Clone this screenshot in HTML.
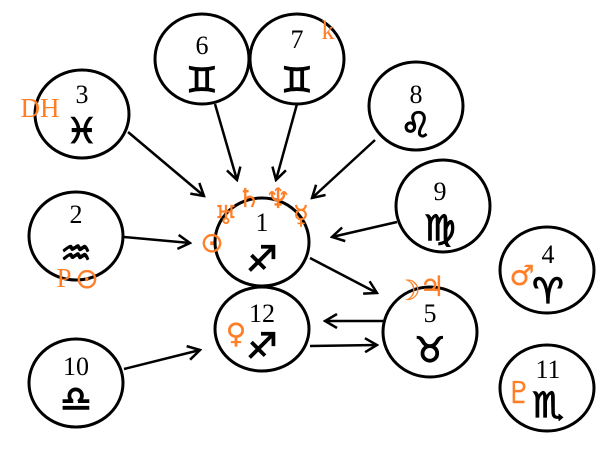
<!DOCTYPE html>
<html><head><meta charset="utf-8"><style>
html,body{margin:0;padding:0;background:#fff;}
svg{display:block}
.n{font-family:"Liberation Serif",serif;font-size:26px;fill:#000;text-anchor:middle}
.s{font-family:"DejaVu Sans",sans-serif;font-size:35px;font-weight:bold;fill:#000;stroke:#000;stroke-width:1.2;text-anchor:middle}
.o{font-family:"DejaVu Sans",sans-serif;fill:#ff7f27;stroke:#ff7f27;stroke-width:0.3;text-anchor:middle}
.or{font-family:"Liberation Serif",serif;fill:#ff7f27;text-anchor:middle}
</style></head><body>
<svg width="610" height="453" viewBox="0 0 610 453" xmlns="http://www.w3.org/2000/svg">
<defs><marker id="a" markerWidth="16" markerHeight="16" refX="14" refY="8" orient="auto" markerUnits="userSpaceOnUse"><path d="M2,1 L14,8 L2,15" fill="none" stroke="#000" stroke-width="2.5"/></marker></defs>
<g fill="none" stroke="#000" stroke-width="3">
<ellipse cx="202" cy="59" rx="47" ry="45"/>
<ellipse cx="297" cy="59" rx="47" ry="45"/>
<ellipse cx="82" cy="114" rx="47" ry="44"/>
<ellipse cx="416" cy="106" rx="47" ry="44"/>
<ellipse cx="443" cy="206" rx="47" ry="46"/>
<ellipse cx="76" cy="236" rx="47" ry="44"/>
<ellipse cx="262" cy="242" rx="47" ry="44"/>
<ellipse cx="262" cy="329" rx="47" ry="42"/>
<ellipse cx="430" cy="332" rx="47" ry="45"/>
<ellipse cx="76" cy="383" rx="47" ry="44"/>
<ellipse cx="547" cy="270" rx="47" ry="43"/>
<ellipse cx="547" cy="388" rx="47" ry="43"/>
</g>
<g stroke="#000" stroke-width="2.5" marker-end="url(#a)">
<line x1="128" y1="132" x2="204" y2="196"/>
<line x1="215" y1="104" x2="237" y2="180"/>
<line x1="297" y1="104" x2="276" y2="180"/>
<line x1="375" y1="140" x2="312" y2="198"/>
<line x1="397" y1="222" x2="332" y2="237"/>
<line x1="124" y1="237" x2="190" y2="243"/>
<line x1="310" y1="258" x2="377" y2="293"/>
<line x1="383" y1="321" x2="325" y2="321"/>
<line x1="310" y1="346" x2="377" y2="345"/>
<line x1="124" y1="369" x2="200" y2="350"/>
</g>
<text class="n" x="202" y="54">6</text><text class="s" x="202" y="92">♊</text>
<text class="n" x="297" y="48">7</text><text class="s" x="297" y="92">♊</text>
<text class="n" x="82" y="103">3</text><text class="s" x="82" y="143">♓</text>
<text class="n" x="416" y="103">8</text><text class="s" x="416" y="137">♌</text>
<text class="n" x="440" y="200">9</text><text class="s" x="440" y="240">♍</text>
<text class="n" x="76" y="223">2</text><text class="s" x="76" y="265">♒</text>
<text class="n" x="262" y="231">1</text><text class="s" x="262" y="271">♐</text>
<text class="n" x="262" y="322">12</text><text class="s" x="262" y="358">♐</text>
<text class="n" x="430" y="322">5</text><text class="s" x="430" y="362">♉</text>
<text class="n" x="76" y="375">10</text><text class="s" x="76" y="411">♎</text>
<text class="n" x="548" y="263">4</text><text class="s" x="548" y="303">♈</text>
<text class="n" x="548" y="378">11</text><text class="s" x="548" y="417">♏</text>
<text class="or" x="40" y="117" font-size="27">DH</text>
<text class="or" x="64" y="287" font-size="27">P</text>
<text class="o" x="87" y="288" font-size="28">⊙</text>
<text class="or" x="328" y="39" font-size="26">k</text>
<text class="o" x="212" y="252" font-size="28">⊙</text>
<text class="o" x="226" y="224" font-size="26">♅</text>
<text class="o" x="249" y="207" font-size="26">♄</text>
<text class="o" x="278" y="208" font-size="28">♆</text>
<text class="o" x="301" y="224" font-size="26">☿</text>
<text class="o" x="408" y="300" font-size="28">☽</text>
<text class="o" x="432" y="296" font-size="28">♃</text>
<text class="o" x="236" y="343" font-size="28">♀</text>
<text class="o" x="522" y="285" font-size="28">♂</text>
<text class="o" x="519" y="403" font-size="30">♇</text>
</svg>
</body></html>
